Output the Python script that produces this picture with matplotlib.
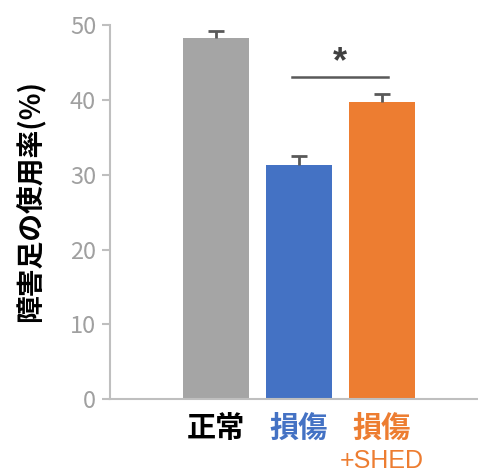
import matplotlib.pyplot as plt
from matplotlib.transforms import blended_transform_factory

plt.rcParams['font.family'] = ['Noto Sans CJK JP', 'DejaVu Sans']

# 群ごとの平均値と標準誤差
groups = ['正常', '損傷', '損傷']
means = [48.3, 31.3, 39.7]
errors = [0.9, 1.2, 1.1]
bar_colors = ['#A5A5A5', '#4472C4', '#ED7D31']
label_colors = ['#000000', '#4472C4', '#ED7D31']
yticks = [0, 10, 20, 30, 40, 50]

fig = plt.figure(figsize=(4.78, 4.73), dpi=100)
ax = fig.add_axes([0.230, 0.156, 0.770, 0.791])

x = list(range(len(groups)))
ax.bar(x, means, width=0.8, color=bar_colors, zorder=2)
_, caps, _ = ax.errorbar(x, means, yerr=[[0] * len(errors), errors], fmt='none',
                         ecolor='#595959', elinewidth=2, capsize=6, capthick=2,
                         zorder=3)
caps[0].set_visible(False)  # 上側のキャップだけ残す

# 有意差の線とアスタリスク
ax.plot([0.92, 2.08], [43.1, 43.1], color='#595959', lw=1.8)
ax.text(1.5, 42.6, '*', ha='center', va='bottom', fontsize=26, fontweight='bold',
        color='#404040', family='Liberation Sans')

ax.set_xlim(-1.28, 3.16)
ax.set_ylim(0, 50)
ax.set_yticks(yticks)
ax.tick_params(axis='y', colors='#BFBFBF', labelcolor='#A0A0A0', labelsize=17,
               length=6, width=1.5, pad=4)
ax.set_xticks(x)
ax.set_xticklabels(groups, fontsize=21, fontweight='bold')
for lbl, c in zip(ax.get_xticklabels(), label_colors):
    lbl.set_color(c)
ax.tick_params(axis='x', length=0, pad=10)

trans = blended_transform_factory(ax.transData, ax.transAxes)
ax.text(2, -0.132, '+SHED', transform=trans, ha='center', va='top',
        fontsize=18, color='#ED7D31', family='Liberation Sans')

for side in ['top', 'right']:
    ax.spines[side].set_visible(False)
for side in ['left', 'bottom']:
    ax.spines[side].set_color('#BFBFBF')
    ax.spines[side].set_linewidth(1.5)

fig.text(0.063, 0.575, '障害足の使用率(%)', rotation=90, ha='center', va='center',
         fontsize=20, fontweight='bold')

fig.savefig('out.png', dpi=100)
